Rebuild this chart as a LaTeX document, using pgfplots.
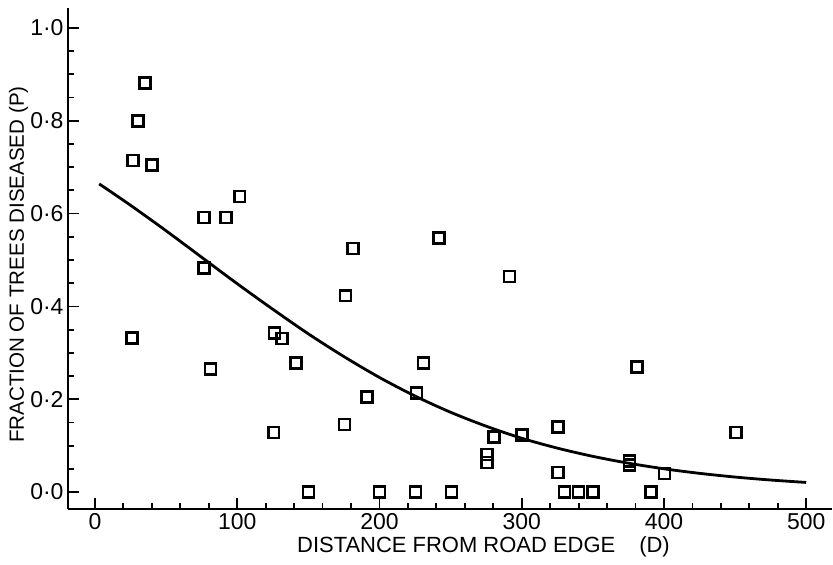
\documentclass[border=0pt]{standalone}
\usepackage{fontspec}
\setmainfont{Liberation Sans}
\usepackage{pgfplots}
\pgfplotsset{compat=1.18}

\begin{document}
\begin{tikzpicture}
	% page frame: 833x557 px at 0.5pt per px
	\path (-34pt,-23.5pt) rectangle (382.5pt,255pt);
	\begin{axis}[
		scale only axis,
		width=382.5pt,
		height=251pt,
		xmin=-19, xmax=518,
		ymin=-0.037, ymax=1.043,
		axis lines=left,
		axis line style={line width=1.2pt, -},
		tick align=inside,
		major tick length=5.5pt,
		minor tick length=3pt,
		every tick/.style={line width=0.9pt, black},
		xtick={0,100,200,300,400,500},
		xticklabels={0,100,200,300,400,500},
		minor x tick num=4,
		ytick={0,0.2,0.4,0.6,0.8,1},
		yticklabels={0·0,0·2,0·4,0·6,0·8,1·0},
		minor y tick num=3,
		ticklabel style={font=\fontsize{11.5}{12}\selectfont},
		xticklabel style={inner sep=2pt},
		yticklabel style={inner sep=2pt},
		xlabel={DISTANCE FROM ROAD EDGE\hspace{12pt}(D)},
		ylabel={FRACTION OF TREES DISEASED (P)},
		xlabel style={font=\fontsize{11}{12}\selectfont,
			at={([yshift=-19pt]rel axis cs:0.544,0)}, anchor=center},
		ylabel style={font=\fontsize{10.3}{12}\selectfont,
			at={([xshift=-24.75pt]rel axis cs:0,0.488)}, anchor=center, rotate=0},
		clip=false,
	]
		%% observed fractions
		\addplot[only marks, mark=square, mark size=2.75pt,
			mark options={line width=1.25pt, black, fill=none}] coordinates {
			(26.9,0.714) (30.4,0.800) (35.1,0.881) (40.2,0.705) (26.2,0.332)
			(76.8,0.592) (76.8,0.483) (92.0,0.592) (101.8,0.637) (81.2,0.265)
			(126.4,0.343) (131.5,0.331) (141.2,0.278) (125.7,0.128) (150.3,0.0)
			(176.3,0.423) (181.4,0.525) (175.6,0.146) (191.2,0.205) (200.0,0.0)
			(225.4,0.0) (225.9,0.214) (231.1,0.278) (241.8,0.547) (250.5,0.0)
			(275.5,0.081) (275.5,0.064) (280.4,0.119) (291.4,0.465) (300.3,0.123)
			(325.6,0.140) (325.6,0.042) (330.0,0.0) (340.0,0.0) (350.0,0.0)
			(375.7,0.067) (375.7,0.058) (381.1,0.269) (391.0,0.0) (400.5,0.040)
			(450.6,0.128)
		};

		%% fitted curve
		\addplot[smooth, line width=1.4pt, black] coordinates {
			(3,0.664) (25,0.618) (50,0.563) (75,0.506) (100,0.449)
			(125,0.394) (150,0.341) (175,0.292) (200,0.247) (225,0.207)
			(250,0.172) (275,0.142) (300,0.116) (325,0.0948) (350,0.0770)
			(375,0.0623) (400,0.0502) (425,0.0404) (450,0.0324) (475,0.0260)
			(500,0.0208)
		};
	\end{axis}
\end{tikzpicture}
\end{document}
